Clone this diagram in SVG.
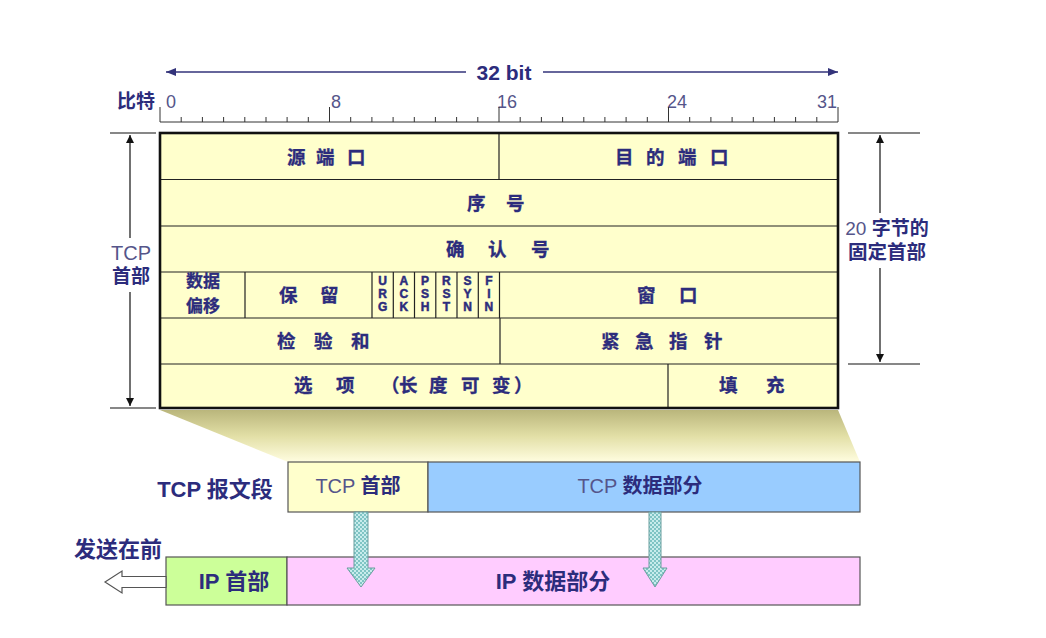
<svg xmlns="http://www.w3.org/2000/svg" width="1046" height="638" viewBox="0 0 1046 638">
<defs>
<style>
.t{font-family:"Liberation Sans","Noto Sans CJK SC",sans-serif;fill:#2c2c7c;}
.b{font-weight:700;}
.th{font-weight:400;fill:#55558a;}
.cell{font-family:"Noto Sans CJK SC","Liberation Sans",sans-serif;font-weight:700;font-size:18.5px;fill:#2c2c7c;stroke:#2c2c7c;stroke-width:0.3;}
.cell2{font-family:"Noto Sans CJK SC","Liberation Sans",sans-serif;font-weight:700;font-size:17px;fill:#2c2c7c;text-anchor:middle;stroke:#2c2c7c;stroke-width:0.3;}
.flag{font-family:"Liberation Sans",sans-serif;font-weight:700;font-size:12px;fill:#2c2c7c;text-anchor:middle;stroke:#2c2c7c;stroke-width:0.5;}
.grid{stroke:#222;stroke-width:1.2;fill:none;}
.dim{stroke:#111;stroke-width:1.2;fill:none;}
.tick{stroke:#333;stroke-width:1;}
.box{stroke:#555;stroke-width:1.2;}
.hatch{fill:url(#dots);stroke:#6b9e9e;stroke-width:1;}
</style>
<linearGradient id="fan" x1="0" y1="0" x2="0" y2="1">
<stop offset="0" stop-color="#bab67c"/>
<stop offset="0.5" stop-color="#e2dfa6"/>
<stop offset="1" stop-color="#fffde0"/>
</linearGradient>
<pattern id="dots" width="4" height="4" patternUnits="userSpaceOnUse">
<rect width="4" height="4" fill="#7fc4c4"/>
<rect width="2" height="2" fill="#c8ecec"/>
<rect x="2" y="2" width="2" height="2" fill="#c8ecec"/>
</pattern>
<marker id="ah" viewBox="0 0 10 10" refX="10" refY="5" markerWidth="8" markerHeight="8" orient="auto-start-reverse" markerUnits="userSpaceOnUse">
<path d="M0,0 L10,5 L0,10 z" fill="#111"/>
</marker>
<marker id="ahn" viewBox="0 0 10 10" refX="10" refY="5" markerWidth="12" markerHeight="10" orient="auto-start-reverse" markerUnits="userSpaceOnUse">
<path d="M0,1 L10,5 L0,9 z" fill="#33337a"/>
</marker>
</defs>
<rect width="1046" height="638" fill="#ffffff"/>

<!-- fan gradient -->
<polygon points="160,410 838,410 860,462 288,462" fill="url(#fan)"/>

<!-- ruler -->
<g id="ruler">
<text class="t b" x="504" y="80" font-size="21" text-anchor="middle">32 bit</text>
<text class="t b" x="136" y="108" font-size="19" text-anchor="middle">比特</text>
<g class="t th" font-size="18" text-anchor="middle">
<text x="171" y="108">0</text>
<text x="336" y="108">8</text>
<text x="507" y="108">16</text>
<text x="677" y="108">24</text>
<text x="827" y="108">31</text>
</g>
<line class="tick" x1="160" y1="122" x2="838" y2="122"/>
<path class="tick" d="M160,107V122 M329.5,107V122 M499,107V122 M668.5,107V122 M838,107V122
M181.2,117V122 M202.4,117V122 M223.6,117V122 M244.8,117V122 M266,117V122 M287.1,117V122 M308.3,117V122
M350.7,117V122 M371.9,117V122 M393.1,117V122 M414.3,117V122 M435.4,117V122 M456.6,117V122 M477.8,117V122
M520.2,117V122 M541.4,117V122 M562.6,117V122 M583.8,117V122 M604.9,117V122 M626.1,117V122 M647.3,117V122
M689.7,117V122 M710.9,117V122 M732.1,117V122 M753.3,117V122 M774.4,117V122 M795.6,117V122 M816.8,117V122"/>
</g>

<!-- header table -->
<g id="header-table">
<rect x="160" y="133" width="678" height="275" fill="#ffffcc"/>
<path class="grid" d="M160,179.5H838 M160,226H838 M160,272H838 M160,318H838 M160,364H838
M499,133V179.5 M245,272V318 M372,272V318 M393.3,272V318 M414.5,272V318 M435.8,272V318 M457,272V318 M478.3,272V318 M499.5,272V318 M500,318V364 M668,364V408"/>
<rect x="160" y="133" width="678" height="275" fill="none" stroke="#111" stroke-width="2.6"/>
</g>
<g id="src-port"><text class="cell" x="287 316 347" y="164">源端口</text></g>
<g id="dst-port"><text class="cell" x="615 646 678 710" y="164">目的端口</text></g>
<g id="seq"><text class="cell" x="467 506" y="210">序号</text></g>
<g id="ack"><text class="cell" x="446 488 531" y="256">确认号</text></g>
<g id="offset"><text class="cell2" x="203" y="287">数据</text><text class="cell2" x="203" y="312">偏移</text></g>
<g id="reserved"><text class="cell" x="279 320" y="302">保留</text></g>
<g id="window"><text class="cell" x="637 679" y="302">窗口</text></g>
<g id="flags">
<text class="flag" x="382.6" y="285">U</text><text class="flag" x="382.6" y="298">R</text><text class="flag" x="382.6" y="311">G</text>
<text class="flag" x="403.9" y="285">A</text><text class="flag" x="403.9" y="298">C</text><text class="flag" x="403.9" y="311">K</text>
<text class="flag" x="425.1" y="285">P</text><text class="flag" x="425.1" y="298">S</text><text class="flag" x="425.1" y="311">H</text>
<text class="flag" x="446.4" y="285">R</text><text class="flag" x="446.4" y="298">S</text><text class="flag" x="446.4" y="311">T</text>
<text class="flag" x="467.6" y="285">S</text><text class="flag" x="467.6" y="298">Y</text><text class="flag" x="467.6" y="311">N</text>
<text class="flag" x="488.9" y="285">F</text><text class="flag" x="488.9" y="298">I</text><text class="flag" x="488.9" y="311">N</text>
</g>
<g id="checksum"><text class="cell" x="277 314 351" y="348">检验和</text></g>
<g id="urgent"><text class="cell" x="601 635 669 704" y="348">紧急指针</text></g>
<g id="options"><text class="cell" x="294 336 381 399 429 461 492 514" y="392">选项（长度可变）</text></g>
<g id="padding"><text class="cell" x="719 766" y="392">填充</text></g>

<!-- side labels -->
<g id="tcp-header-label">
<line class="dim" x1="110" y1="133" x2="156" y2="133"/>
<line class="dim" x1="110" y1="408" x2="156" y2="408"/>
<text class="t th" x="131" y="260" font-size="20" text-anchor="middle">TCP</text>
<text class="t b" x="131" y="283" font-size="19" text-anchor="middle">首部</text>
</g>
<g id="fixed-header-label">
<line class="dim" x1="848" y1="133" x2="920" y2="133"/>
<line class="dim" x1="848" y1="364" x2="920" y2="364"/>
<text class="t" x="887" y="235" font-size="19" text-anchor="middle"><tspan class="th">20 </tspan><tspan class="b">字节的</tspan></text>
<text class="t b" x="887" y="259" font-size="19.5" text-anchor="middle">固定首部</text>
</g>

<!-- segment rows -->
<g id="tcp-segment-label"><text class="t b" x="215" y="497" font-size="22" text-anchor="middle">TCP 报文段</text></g>
<g id="tcp-header-box">
<rect class="box" x="288" y="462" width="140" height="50" fill="#ffffcc"/>
<text class="t" x="358" y="493" font-size="20" text-anchor="middle"><tspan class="th">TCP </tspan><tspan class="b">首部</tspan></text>
</g>
<g id="tcp-data-box">
<rect class="box" x="428" y="462" width="432" height="50" fill="#99ccff"/>
<text class="t" x="640" y="493" font-size="20" text-anchor="middle"><tspan class="th">TCP </tspan><tspan class="b">数据部分</tspan></text>
</g>
<g id="send-first-label"><text class="t b" x="118" y="557" font-size="22" text-anchor="middle">发送在前</text></g>
<g id="ip-header-box">
<rect class="box" x="166" y="557" width="121" height="48" fill="#ccff99"/>
<text class="t b" x="234" y="589" font-size="22" text-anchor="middle">IP 首部</text>
</g>
<g id="ip-data-box">
<rect class="box" x="287" y="557" width="573" height="48" fill="#ffccff"/>
<text class="t b" x="553" y="589" font-size="22" text-anchor="middle">IP 数据部分</text>
</g>

<!-- connectors -->
<g id="connectors">
<line x1="466" y1="72" x2="166" y2="72" stroke="#33337a" stroke-width="1.5" marker-end="url(#ahn)"/>
<line x1="543" y1="72" x2="838" y2="72" stroke="#33337a" stroke-width="1.5" marker-end="url(#ahn)"/>
<line class="dim" x1="130" y1="238" x2="130" y2="135" marker-end="url(#ah)"/>
<line class="dim" x1="130" y1="292" x2="130" y2="406" marker-end="url(#ah)"/>
<line class="dim" x1="880" y1="213" x2="880" y2="135" marker-end="url(#ah)"/>
<line class="dim" x1="880" y1="268" x2="880" y2="362" marker-end="url(#ah)"/>
<polygon class="hatch" points="354,512 368,512 368,568 375,568 361,587 347,568 354,568"/>
<polygon class="hatch" points="649,512 661,512 661,568 667,568 655,587 643,568 649,568"/>
<polygon points="166,576.5 122,576.5 122,571 105,582 122,593 122,587.5 166,587.5" fill="#ffffff" stroke="#555" stroke-width="1.2"/>
</g>
</svg>
